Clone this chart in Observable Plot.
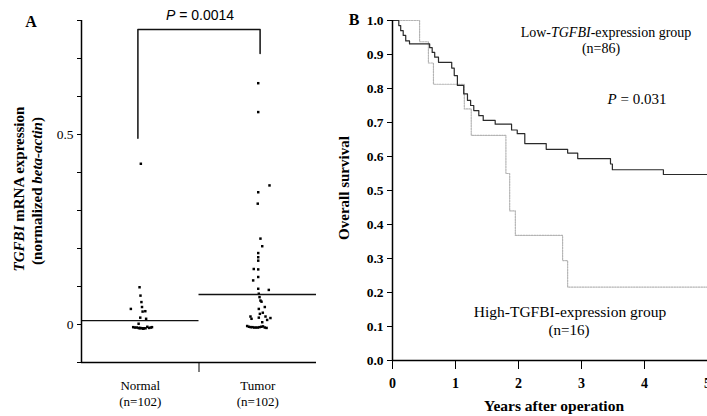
<!DOCTYPE html>
<html><head><meta charset="utf-8">
<script src="https://cdn.jsdelivr.net/npm/d3@7"></script>
<script src="https://cdn.jsdelivr.net/npm/@observablehq/plot@0.6"></script>
<style>
body{margin:0;background:#fff;}
#wrap{position:relative;width:707px;height:416px;overflow:hidden;background:#fff;}
#a,#b{position:absolute;top:0;}
#a{left:0;} #b{left:330px;}
</style></head><body><div id="wrap"><div id="a"></div><div id="b"></div></div>
<script>
// ---------- Panel A data ----------
const groups = ["Normal", "Tumor"];
const groupN = [102, 102];
const groupMeans = [0.010, 0.079];
const normalValues = [0.423, 0.098, 0.076, 0.059, 0.046, 0.041, 0.035, 0.034, 0.018, 0.015, 0.002,
  -0.006, -0.007, -0.008, -0.008, -0.009, -0.009, -0.010, -0.010, -0.010, -0.009, -0.008, -0.007, -0.010, -0.011];
const normalJitter = [0.005, -0.006, 0.002, 0.01, 0.015, -0.08, 0.043, 0.02, 0.0, 0.05, -0.014,
  0.06, -0.06, -0.045, -0.03, -0.015, 0.0, 0.015, 0.03, 0.045, 0.075, 0.09, 0.1, -0.005, 0.025];
const tumorValues = [0.635, 0.559, 0.366, 0.348, 0.318, 0.226, 0.206, 0.188, 0.177, 0.168, 0.146, 0.145,
  0.125, 0.116, 0.094, 0.091, 0.081, 0.072, 0.063, 0.060, 0.046, 0.041, 0.031, 0.028, 0.021, 0.021,
  0.018, 0.017, 0.015, 0.012, 0.006,
  -0.004, -0.006, -0.007, -0.007, -0.008, -0.008, -0.008, -0.007, -0.006, -0.005, -0.008, -0.009];
const tumorJitter = [0.004, 0.004, 0.1, 0.004, 0.0, 0.023, 0.038, 0.004, 0.004, 0.004, -0.034, 0.004,
  0.004, -0.039, 0.004, 0.094, 0.009, 0.015, 0.023, 0.032, 0.06, 0.009, 0.043, 0.018, 0.066, -0.062,
  0.009, 0.108, -0.053, 0.08, 0.038,
  -0.09, -0.075, -0.06, -0.045, -0.03, -0.015, 0.0, 0.015, 0.03, 0.045, 0.06, 0.075];
const yTicksA = [-0.1, 0, 0.1, 0.2, 0.3, 0.4, 0.5, 0.6, 0.7, 0.8];
const yLabelsA = {"0": "0", "0.5": "0.5"};
const pValueA = "0.0014";
const bracketTop = 0.776;
const bracketEnds = [0.49, 0.713];

// ---------- Panel B data ----------
const lowTime = [0, 0.10, 0.13, 0.17, 0.21, 0.27, 0.59, 0.63, 0.67, 0.73, 0.94, 0.98, 1.03, 1.13, 1.19,
  1.24, 1.29, 1.37, 1.44, 1.63, 1.89, 1.98, 2.10, 2.44, 2.78, 2.94, 3.46, 3.49, 4.30, 5.0];
const lowSurv = [1.0, 0.985, 0.97, 0.956, 0.94, 0.931, 0.92, 0.906, 0.892, 0.877, 0.86, 0.838, 0.809, 0.784, 0.765,
  0.75, 0.735, 0.72, 0.706, 0.695, 0.678, 0.667, 0.638, 0.621, 0.61, 0.594, 0.578, 0.561, 0.547, 0.547];
const highTime = [0, 0.43, 0.57, 0.65, 1.14, 1.25, 1.80, 1.86, 1.95, 2.70, 2.78, 5.0];
const highSurv = [1.0, 0.9375, 0.875, 0.8125, 0.74, 0.662, 0.55, 0.44, 0.368, 0.294, 0.216, 0.216];
const xTicksB = [0, 1, 2, 3, 4, 5];
const yTicksB = [0, 0.1, 0.2, 0.3, 0.4, 0.5, 0.6, 0.7, 0.8, 0.9, 1.0];
const lowLabel = ["Low-", "TGFBI", "-expression group"];
const lowN = 86, highN = 16;
const highLabel = "High-TGFBI-expression group";
const pValueB = "0.031";

const serif = "'Liberation Serif', 'Times New Roman', serif";

// ---------- Panel A ----------
const normalPts = normalValues.map((v, i) => ({g: 1, v, j: normalJitter[i]}));
const tumorPts = tumorValues.map((v, i) => ({g: 2, v, j: tumorJitter[i]}));
const bracket = [
  {x: 0.98, y: bracketEnds[0]}, {x: 0.98, y: bracketTop},
  {x: 2.02, y: bracketTop}, {x: 2.02, y: bracketEnds[1]}
];

const plotA = Plot.plot({
  width: 330, height: 416,
  marginLeft: 81, marginRight: 14, marginTop: 20, marginBottom: 54,
  style: {fontFamily: serif, fontSize: "13px", background: "white", overflow: "visible"},
  x: {domain: [0.5, 2.5], axis: null},
  y: {domain: [-0.1, 0.8], axis: null},
  marks: [
    Plot.dot([...normalPts, ...tumorPts], {x: d => d.g + d.j, y: "v", r: 1.4, symbol: "square", fill: "black", stroke: "none"}),
    Plot.ruleY(groups, {y: (d, i) => groupMeans[i], x1: (d, i) => i + 0.5, x2: (d, i) => i + 1.5, stroke: "#111", strokeWidth: 1.3}),
    Plot.line(bracket, {x: "x", y: "y", stroke: "#111", strokeWidth: 1.5}),
    Plot.axisY(yTicksA, {anchor: "left", tickSize: 4, tickPadding: 4, label: null,
      tickFormat: d => yLabelsA[String(+d.toFixed(1))] ?? "", fontSize: 13.5}),
    Plot.axisX([1.5], {anchor: "bottom", tickSize: 10, tickFormat: () => "", label: null}),
    Plot.ruleX([0.5], {stroke: "black", strokeWidth: 1.5}),
    Plot.ruleY([-0.1], {stroke: "black", strokeWidth: 1.5}),
    Plot.text(groups, {x: (d, i) => i + 1, frameAnchor: "bottom", lineAnchor: "top", dy: 16,
      text: (d, i) => `${d}\n(n=${groupN[i]})`, lineHeight: 1.25, fontSize: 13})
  ]
});
document.getElementById("a").appendChild(plotA);

// ---------- Panel B ----------
const lowData = lowTime.map((t, i) => ({t, s: lowSurv[i]}));
const highData = highTime.map((t, i) => ({t, s: highSurv[i]}));

const plotB = Plot.plot({
  width: 377, height: 416,
  marginLeft: 62, marginRight: 0, marginTop: 20, marginBottom: 56,
  style: {fontFamily: serif, fontSize: "13px", fontWeight: "bold", background: "white", overflow: "visible"},
  x: {domain: [0, 5], axis: null},
  y: {domain: [0, 1], axis: null},
  marks: [
    Plot.line(highData, {x: "t", y: "s", curve: "step-after", stroke: "#b4b4b4", strokeWidth: 1.2, strokeDasharray: "1.5,1.2"}),
    Plot.line(lowData, {x: "t", y: "s", curve: "step-after", stroke: "#2a2a2a", strokeWidth: 1.2}),
    Plot.axisY(yTicksB, {anchor: "left", tickSize: 5, tickPadding: 4, label: null, tickFormat: d => d.toFixed(1), fontSize: 13.5, fontWeight: "bold"}),
    Plot.axisX(xTicksB, {anchor: "bottom", tickSize: 9, tickPadding: 9, label: null, tickFormat: d => String(d), fontSize: 14, fontWeight: "bold"}),
    Plot.ruleX([0], {stroke: "black", strokeWidth: 1.5}),
    Plot.ruleY([0], {stroke: "black", strokeWidth: 1.5})
  ]
});
document.getElementById("b").appendChild(plotB);

// ---------- Annotations (mixed-style text) ----------
function addText(svg, x, y, parts, o = {}) {
  const t = d3.select(svg).append("text")
    .attr("x", x).attr("y", y)
    .attr("text-anchor", o.anchor || "middle")
    .attr("font-family", o.family || serif)
    .attr("font-size", o.size || 14)
    .attr("font-weight", o.weight || "normal")
    .attr("fill", "black");
  if (o.rotate) t.attr("transform", `rotate(-90 ${x} ${y})`);
  parts.forEach(p => {
    const s = t.append("tspan").text(p.t);
    if (p.i) s.attr("font-style", "italic");
  });
  return t;
}
const sA = plotA, sB = plotB;
addText(sA, 31, 27, [{t: "A"}], {size: 16, weight: "bold"});
addText(sA, 200, 20, [{t: "P", i: true}, {t: " = " + pValueA}], {size: 14, family: "'Liberation Sans', Arial, sans-serif"});
addText(sA, 24, 189, [{t: "TGFBI", i: true}, {t: " mRNA expression"}], {size: 15, weight: "bold", rotate: true});
addText(sA, 42, 191, [{t: "(normalized "}, {t: "beta-actin", i: true}, {t: ")"}], {size: 15, weight: "bold", rotate: true});

addText(sB, 24, 25, [{t: "B"}], {size: 16, weight: "bold"});
addText(sB, 19, 188, [{t: "Overall survival"}], {size: 15, weight: "bold", rotate: true});
addText(sB, 224, 411, [{t: "Years after operation"}], {size: 15.5, weight: "bold"});
addText(sB, 276, 37, [{t: lowLabel[0]}, {t: lowLabel[1], i: true}, {t: lowLabel[2]}], {size: 14});
addText(sB, 271, 53, [{t: `(n=${lowN})`}], {size: 14});
addText(sB, 307, 104, [{t: "P", i: true}, {t: " = " + pValueB}], {size: 15});
addText(sB, 240, 317, [{t: highLabel}], {size: 15.5});
addText(sB, 239, 335, [{t: `(n=${highN})`}], {size: 15});
</script></body></html>
